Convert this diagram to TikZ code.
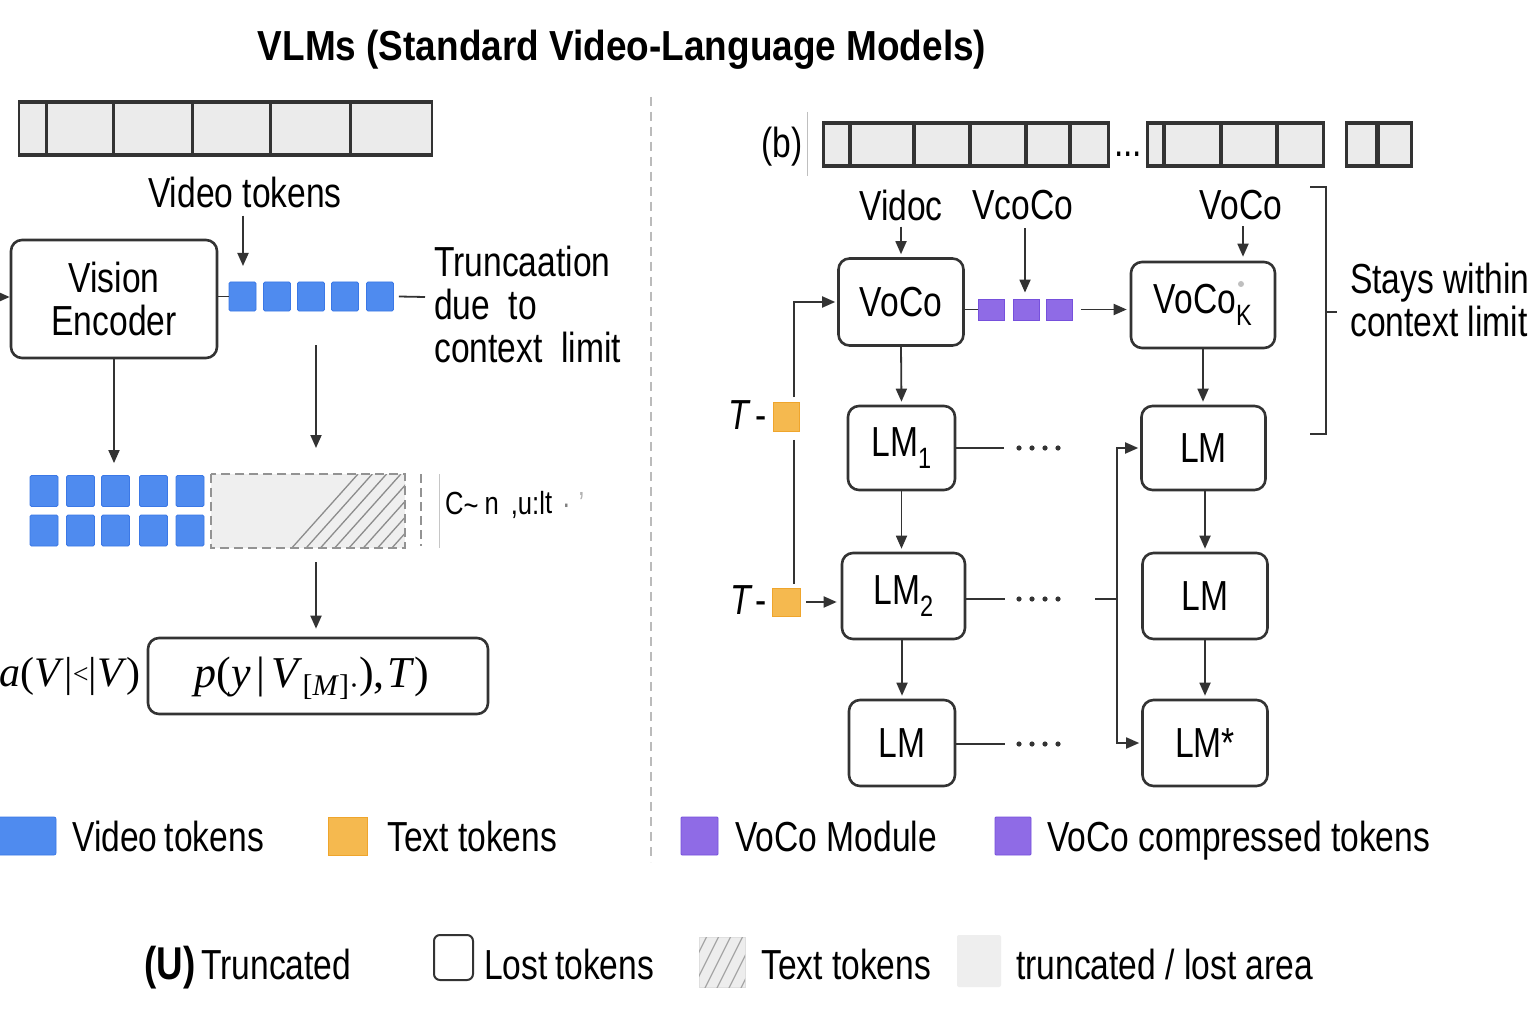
\documentclass[tikz,border=0pt]{standalone}
\usepackage{fontspec}
\setmainfont{Liberation Sans}[FakeStretch=0.8]
\newfontfamily\titlefont{Liberation Sans}[FakeStretch=0.88]
\newfontfamily\serfont{Liberation Serif}
\usetikzlibrary{arrows.meta}
\definecolor{dk}{HTML}{333333}
\definecolor{vb}{HTML}{4F8BEF}
\definecolor{vbd}{HTML}{3B78E6}
\definecolor{tor}{HTML}{F5B94F}
\definecolor{tord}{HTML}{EFA52C}
\definecolor{pu}{HTML}{8F6BE6}
\definecolor{pud}{HTML}{7650DC}
\definecolor{lg}{HTML}{EBEBEB}
\definecolor{gl}{HTML}{AAAAAA}
\tikzset{
 lbl/.style={inner sep=0pt, font=\fontsize{42}{43}\selectfont, text=black},
 box/.style={draw=dk, line width=2.6pt, rounded corners=11pt, fill=white, inner sep=0pt, font=\fontsize{42}{43}\selectfont},
 conn/.style={draw=dk, line width=1.8pt, -{Triangle[length=13pt,width=11pt]}},
 ln/.style={draw=dk, line width=1.8pt},
 vtok/.style={fill=vb, draw=vbd, line width=0.8pt, rounded corners=1.5pt, inner sep=0pt},
 otok/.style={fill=tor, draw=tord, line width=0.8pt, inner sep=0pt},
 ptok/.style={fill=pu, draw=pud, line width=0.8pt, inner sep=0pt},
 hatchln/.style={draw=gray!90, line width=1.3pt},
 mathlbl/.style={inner sep=0pt, font=\serfont\fontsize{44}{46}\selectfont},
}
\begin{document}
\begin{tikzpicture}[x=1pt,y=-1pt]
\useasboundingbox (0,0) rectangle (1536,1024);
\fill[white] (0,0) rectangle (1536,1024);

% title
\node[inner sep=0pt, font=\fontsize{42}{44}\titlefont\bfseries] (title) at (622,50) {VLMs (Standard Video-Language Models)};

% ---------- left film strip
\fill[dk] (18,100) rectangle (433,157);
\foreach \a/\b in {20/45,48/112,115/191,194/269,272/349,352/431}
  \fill[lg] (\a,104) rectangle (\b,153);

\node[lbl] (vt) at (245,192) {Video tokens};
\coordinate (vtend) at (243,266);
\draw[conn] (vt.south -| vtend) ++(0,8) -- (vtend);

% vision encoder
\node[box, minimum width=206pt, minimum height=118pt, align=center] (enc) at (114,299) {Vision\\Encoder};
\coordinate (inL) at (-6,297);
\draw[conn] (inL) -- (enc.west |- inL);

% token row
\foreach \i/\x in {1/242.5,2/277,3/311,4/345,5/380}
  \node[vtok, minimum width=27pt, minimum height=29pt] (t\i) at (\x,296.5) {};
\draw[ln] (enc.east |- t1) -- (t1.west);
\coordinate (trE) at (425,297);
\draw[ln] ([xshift=5pt]t5.east) -- (trE);

\node[lbl, anchor=west, align=left] (trunc) at (434,304) {Truncaation\\due\ \ to\\context\ \ limit};

% arrows down
\coordinate (c1) at (316,345);
\coordinate (c2) at (316,448);
\draw[conn] (c1) -- (c2);

% grid
\foreach \r/\y in {1/491,2/530.5}
  \foreach \c/\x in {1/44,2/80.5,3/115.5,4/153.5,5/190}
    \node[vtok, minimum width=28pt, minimum height=31pt] (g\r\c) at (\x,\y) {};
\draw[conn, shorten >=12pt] (enc.south) -- (enc.south |- g13.north);

% dashed truncated box
\node[fill=lg!80, minimum width=194pt, minimum height=74pt, inner sep=0pt] (dbox) at (308,511) {};
\begin{scope}
  \clip (211,474) rectangle (405,548);
  \foreach \x in {290,304.3,...,420}
    \draw[hatchln] (\x,550) -- ++(68,-76);
\end{scope}
\draw[draw=gray!85, dashed, dash pattern=on 9pt off 5pt, line width=1.8pt] (dbox.north west) rectangle (dbox.south east);
\draw[draw=gray!85, dash pattern=on 9pt off 5pt, line width=1.8pt] (421,474) -- (421,546);
\draw[draw=gray!45, line width=1pt] (439,474) -- (439,548);
\node[inner sep=0pt, anchor=west, font=\fontsize{32}{34}\selectfont] (garb) at (445,505) {C\raisebox{-2pt}{\textasciitilde}\hspace{6pt}n\hspace{12pt},u:l\raisebox{1pt}{t}\hspace{10pt}{\color{gray}\textperiodcentered}\hspace{8pt}{\color{gray!60}'}};

% probability box
\node[box, minimum width=340pt, minimum height=76pt] (pbox) at (318,676) {};
\node[mathlbl] (ptext) at (312,678) {\textit{p}(\textit{y}\hspace{6pt}|\hspace{6pt}\textit{V}\raisebox{-8pt}{\fontsize{30}{32}\selectfont[\textit{M}]\textperiodcentered}),\hspace{3pt}\textit{T})};
\draw[conn, shorten <=14pt, shorten >=8pt] (dbox.south -| 316,0) -- (pbox.north -| 316,0);
\node[mathlbl, anchor=east, font=\serfont\fontsize{42}{44}\selectfont] (am) at (141,676) {\textit{a}(\textit{V}|\raisebox{3pt}{\fontsize{28}{30}\selectfont<}|\textit{V})};

% left legend
\node[vtok, rounded corners=2pt, minimum width=58pt, minimum height=38pt] (lb) at (27,836) {};
\node[lbl, anchor=base west] (lbt) at (72,851) {Video\hspace{-2pt} tokens};
\node[otok, minimum width=39pt, minimum height=38pt] (lo) at (347.5,836) {};
\node[lbl, anchor=base west] (lot) at (387,851) {Text tokens};

% divider
\draw[draw=gl!80, line width=1.6pt, dash pattern=on 9pt off 6pt] (651,97) -- (651,862);

% ---------- right part
\node[lbl] (bl) at (782,147) {(b)};
\draw[draw=gray!50, line width=1pt] (807,112) -- (807,176);
\fill[dk] (822,121) rectangle (1110,168);
\foreach \a/\b in {825/848,852/912,916/968,972/1024,1028/1068,1072/1107}
  \fill[lg] (\a,125) rectangle (\b,164);
\fill[dk] (1146,121) rectangle (1325,168);
\foreach \a/\b in {1149/1162,1166/1219,1223/1275,1279/1322}
  \fill[lg] (\a,125) rectangle (\b,164);
\fill[dk] (1345,121) rectangle (1413,168);
\foreach \a/\b in {1348/1375,1380/1410}
  \fill[lg] (\a,125) rectangle (\b,164);
\node[lbl] (ell) at (1128,154) {...};

\node[lbl] (l1) at (901,205) {Vidoc};
\node[lbl] (l2) at (1023,205) {VcoCo};
\node[lbl] (l3) at (1241,205) {VoCo};

% bracket
\draw[dk, line width=1.6pt] (1310,187) -- (1326,187) -- (1326,434) -- (1310,434);
\draw[dk, line width=1.6pt] (1326,312) -- (1337,312);
\node[lbl, anchor=west, align=left] (stay) at (1350,300) {Stays within\\context limit};

% boxes
\node[box, minimum width=125pt, minimum height=87pt] (voco) at (901,302) {VoCo};
\node[box, minimum width=144pt, minimum height=86pt] (vocok) at (1203,305) {VoCo\textsubscript{K}};
\fill[gray!50] (1241,284) circle (3pt);
\node[box, minimum width=107pt, minimum height=84pt] (lm1) at (901.5,448) {LM\textsubscript{1}};
\node[box, minimum width=124pt, minimum height=84pt] (lmr1) at (1203.5,448) {LM};
\node[box, minimum width=123pt, minimum height=86pt] (lm2) at (903.5,596) {LM\textsubscript{2}};
\node[box, minimum width=125pt, minimum height=86pt] (lmr2) at (1205,596) {LM};
\node[box, minimum width=106pt, minimum height=86pt] (lm3) at (902,743) {LM};
\node[box, minimum width=125pt, minimum height=86pt] (lmr3) at (1205,743) {LM*};

% purple tokens
\foreach \i/\x in {1/991,2/1026,3/1059.5}
  \node[ptok, minimum width=26pt, minimum height=21pt] (p\i) at (\x,309.5) {};

% label arrows
\draw[conn, shorten <=6pt, shorten >=3pt] (l1.south) -- (voco.north);
\draw[conn, shorten <=8pt, shorten >=6pt] ([xshift=2pt]l2.south) -- ([xshift=2pt]l2.south |- p2.north);
\draw[conn, shorten <=6pt, shorten >=4pt] ([xshift=2pt]l3.south) -- ([xshift=2pt]l3.south |- vocok.north);

\draw[ln] (voco.east |- p1) -- (p1.west);
\draw[conn, shorten >=3pt] ([xshift=8pt]p3.east) -- (vocok.west |- p3);

% vertical arrows
\draw[conn, shorten >=3pt] (voco.south) -- (lm1.north);
\draw[conn, shorten >=3pt] (vocok.south) -- (vocok.south |- lmr1.north);
\draw[conn, shorten >=3pt] (lm1.south) -- (lm1.south |- lm2.north);
\draw[conn, shorten >=3pt] (lmr1.south -| lmr2) -- (lmr2.north);
\draw[conn, shorten >=3pt] (lm2.south -| lm3) -- (lm3.north);
\draw[conn, shorten >=3pt] (lmr2.south) -- (lmr3.north);

% dotted continuations
\coordinate (e1) at (1004,448);
\coordinate (e2) at (1005,599);
\coordinate (e3) at (1005,744);
\draw[ln] (lm1.east |- e1) -- (e1);
\draw[ln] (lm2.east |- e2) -- (e2);
\draw[ln] (lm3.east |- e3) -- (e3);
\foreach \yy in {448,599,744}
  \foreach \k in {0,...,3}
    \fill[dk] (1019+13*\k,\yy) circle (2.6pt);

% junction to right column
\coordinate (jn) at (1117,599);
\coordinate (js) at (1095,599);
\draw[ln] (js) -- (jn);
\draw[conn, shorten >=2pt] (jn) |- (lmr1.west);
\draw[conn, shorten >=2pt] (jn) |- (lmr3.west);

% text tokens
\node[otok, minimum width=26pt, minimum height=29pt] (o1) at (786,417) {};
\node[otok, minimum width=28pt, minimum height=28pt] (o2) at (786,602) {};
\node[lbl, anchor=east] (T1) at (767,415) {\textit{T}\hspace{5pt}-};
\node[lbl, anchor=east] (T2) at (767,600) {\textit{T}\hspace{3pt}-};
\draw[conn, shorten >=2pt] ([xshift=8pt,yshift=5pt]o1.north) |- (voco.west);
\draw[ln] ([xshift=8pt,yshift=-8pt]o1.south) -- ([xshift=8pt,yshift=4pt]o2.north);
\draw[conn, shorten >=4pt] ([xshift=6pt]o2.east) -- (lm2.west |- o2);

% right legend
\node[ptok, rounded corners=1pt, minimum width=37pt, minimum height=38pt] (lp1) at (699.5,836) {};
\node[lbl, anchor=base west] (lp1t) at (735,851) {VoCo Module};
\node[ptok, rounded corners=1pt, minimum width=36pt, minimum height=38pt] (lp2) at (1013,836) {};
\node[lbl, anchor=base west] (lp2t) at (1047,851) {VoCo compressed tokens};

% bottom legend
\node[inner sep=0pt, anchor=base west, font=\fontsize{46}{48}\selectfont\bfseries] (U) at (144,979) {(U)};
\node[lbl, anchor=base west] (Ut) at (201,979) {Truncated};
\node[draw=dk, line width=2pt, rounded corners=6pt, fill=white, minimum width=39pt, minimum height=45pt, inner sep=0pt] (lost) at (453.5,957.5) {};
\node[lbl, anchor=base west] (lostt) at (484,979) {Lost\hspace{-2pt} tokens};
\node[fill=lg!90, draw=gray!25, line width=0.8pt, minimum width=46pt, minimum height=50pt, inner sep=0pt] (hl) at (722,962) {};
\begin{scope}
  \clip (699,937) rectangle (745,987);
  \foreach \x in {680,692,...,752}
    \draw[draw=gray!70, line width=1.2pt] (\x,990) -- ++(28,-56);
\end{scope}
\node[lbl, anchor=base west] (hlt) at (761,979) {Text tokens};
\node[fill=lg!85, rounded corners=2pt, minimum width=44pt, minimum height=52pt, inner sep=0pt] (ta) at (979,961) {};
\node[lbl, anchor=base west] (tat) at (1016,979) {truncated / lost area};
\end{tikzpicture}
\end{document}
